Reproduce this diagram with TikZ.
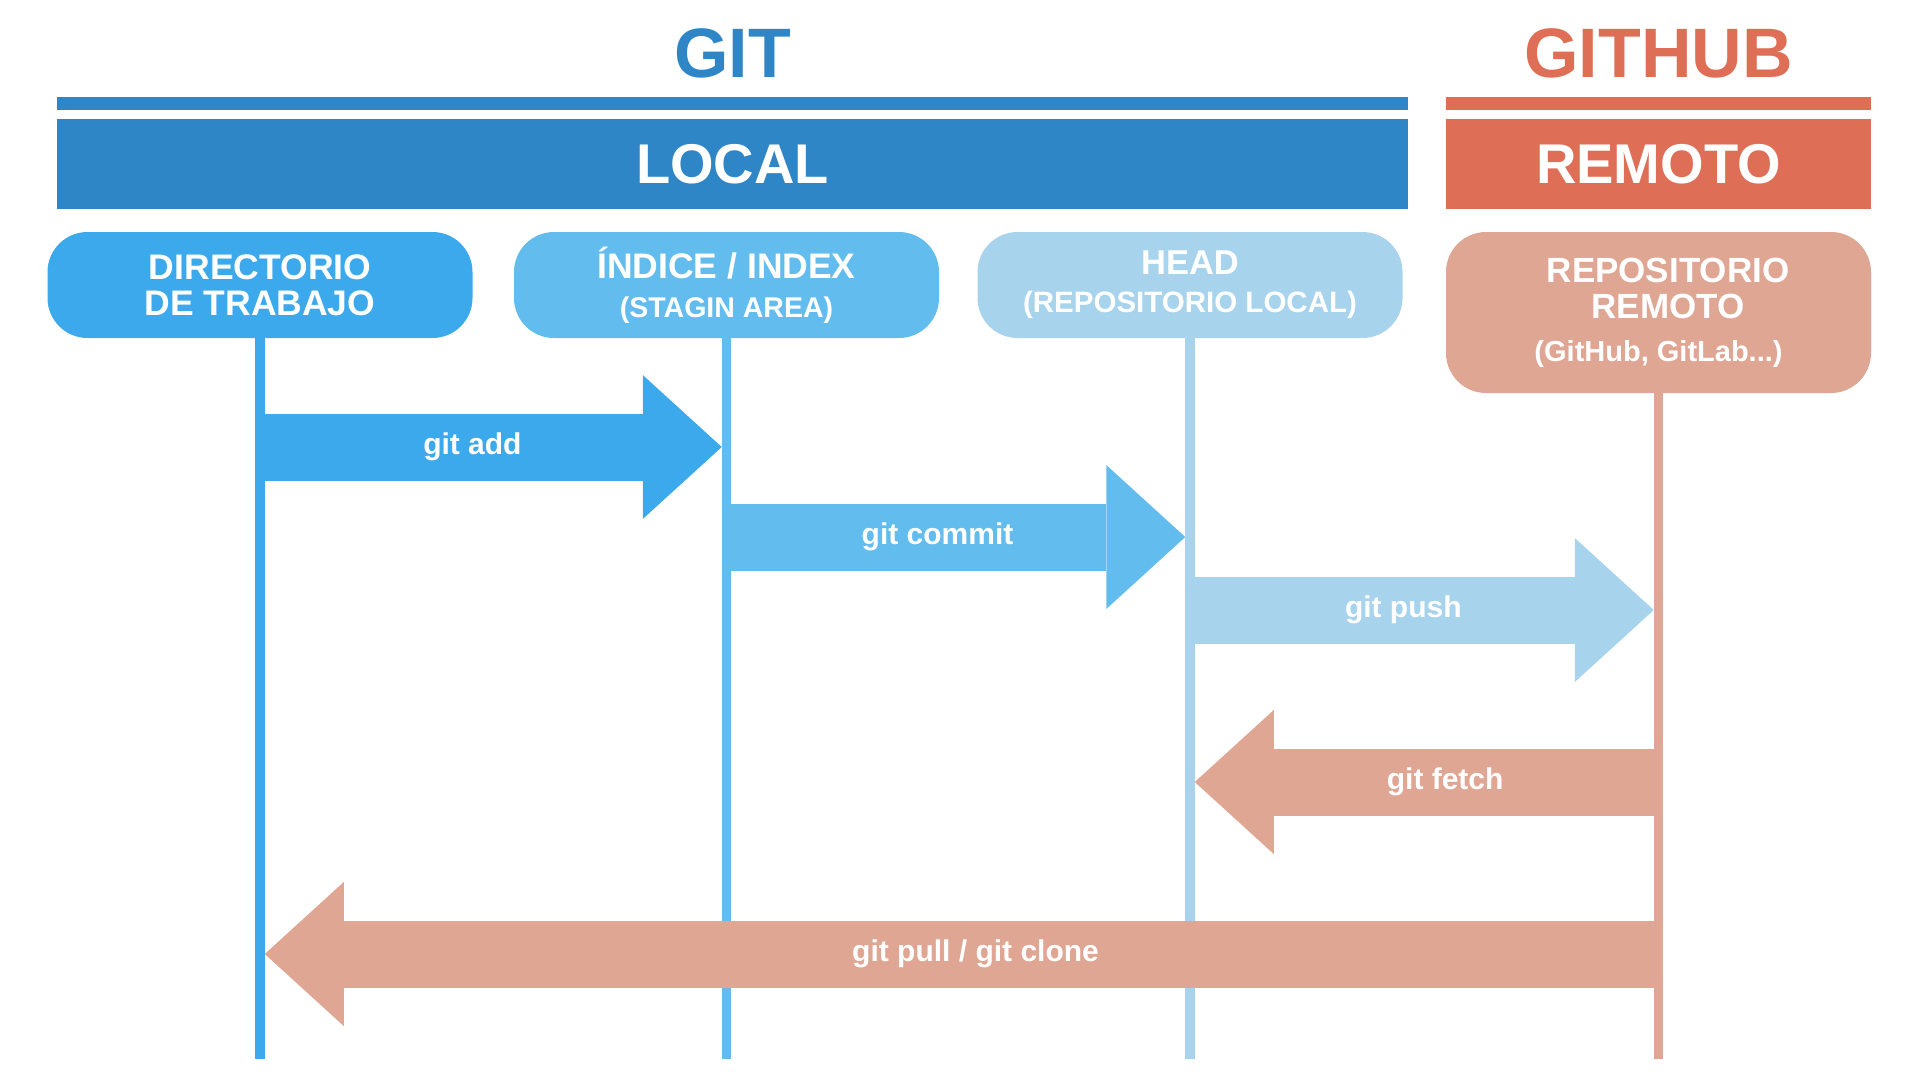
\documentclass[tikz,border=0pt]{standalone}
\usepackage{fontspec}
\setmainfont{Liberation Sans}
\usetikzlibrary{arrows.meta,calc}

\definecolor{azul}{HTML}{2E86C6}
\definecolor{naranja}{HTML}{DE6E55}
\definecolor{trabajo}{HTML}{3DA9ED}
\definecolor{indice}{HTML}{62BDEE}
\definecolor{cabeza}{HTML}{A7D4EC}
\definecolor{remoto}{HTML}{DFA693}

\tikzset{
  pastilla/.style={rounded corners=40pt, minimum width=425pt, minimum height=106pt,
    inner sep=0pt, align=center, text=white, font=\bfseries\fontsize{35.5}{36}\selectfont},
  barra/.style={minimum height=90pt, inner sep=0pt, text=white,
    font=\bfseries\fontsize{56}{56}\selectfont},
  titulo/.style={anchor=base, font=\bfseries\fontsize{70}{70}\selectfont},
  linea/.style={draw=#1, line width=9.5pt},
  flecha/.style={draw=#1, line width=67pt,
    -{Triangle[length=79pt 0 0, width=144pt 0 0, line width=0pt]}},
}

\begin{document}
\begin{tikzpicture}[x=1pt,y=-1pt]
  \useasboundingbox (0,0) rectangle (1920,1080);

  % cabecera
  \node[barra, fill=azul, minimum width=1351pt] (local) at (732.5,164) {LOCAL};
  \node[barra, fill=naranja, minimum width=425pt] (remote) at (1658.5,164) {REMOTO};
  \fill[azul] ([yshift=9pt]local.north west) rectangle ([yshift=22pt]local.north east);
  \fill[naranja] ([yshift=9pt]remote.north west) rectangle ([yshift=22pt]remote.north east);
  \node[titulo, text=azul] (git) at (732.5,77) {GIT};
  \node[titulo, text=naranja] (github) at (1658.5,77) {GITHUB};

  % pastillas
  \begin{scope}[every node/.style={pastilla}]
    \node[fill=trabajo] (dir) at (260,285) {DIRECTORIO\\DE TRABAJO};
    \node[fill=indice, font=\bfseries\fontsize{35.5}{39}\selectfont] (idx) at (726.5,285)
      {ÍNDICE / INDEX\\{\fontsize{28.5}{39}\selectfont(STAGIN AREA)}};
    \node[fill=cabeza, font=\bfseries\fontsize{34.5}{38}\selectfont] (head) at (1190,285)
      {HEAD\\{\fontsize{29.5}{38}\selectfont(REPOSITORIO LOCAL)}};
    \node[fill=remoto, minimum height=161pt, font=\bfseries\fontsize{35}{36}\selectfont] (rem) at (1658.5,312.5)
      {\hspace*{19pt}REPOSITORIO\\\hspace*{19pt}REMOTO\\[7pt]{\fontsize{29}{36}\selectfont(GitHub, GitLab...)}};
  \end{scope}

  % lineas
  \coordinate (fin) at (0,1059);
  \draw[linea=trabajo] (dir.south) -- (dir.south |- fin);
  \draw[linea=indice] (idx.south) -- (idx.south |- fin);
  \draw[linea=cabeza] (head.south) -- (head.south |- fin);
  \draw[linea=remoto] (rem.south) -- (rem.south |- fin);

  % flechas
  \coordinate (a1) at (dir.south |- 0,447);
  \coordinate (a2) at ($(idx.south |- 0,447)+(-4.75,0)$);
  \coordinate (c1) at (idx.south |- 0,537);
  \coordinate (c2) at ($(head.south |- 0,537)+(-4.75,0)$);
  \coordinate (p1) at (head.south |- 0,610);
  \coordinate (p2) at ($(rem.south |- 0,610)+(-4.75,0)$);
  \coordinate (f1) at (rem.south |- 0,782);
  \coordinate (f2) at ($(head.south |- 0,782)+(4.75,0)$);
  \coordinate (g1) at (rem.south |- 0,954);
  \coordinate (g2) at ($(dir.south |- 0,954)+(4.75,0)$);

  \begin{scope}[every node/.style={text=white, font=\bfseries\fontsize{30}{30}\selectfont, pos=.46}]
    \path (a1) edge[flecha=trabajo] node {git add} (a2);
    \path (c1) edge[flecha=indice] node {git commit} (c2);
    \path (p1) edge[flecha=cabeza] node {git push} (p2);
    \path (f1) edge[flecha=remoto] node {git fetch} (f2);
    \path (g1) edge[flecha=remoto] node[pos=.49] {git pull / git clone} (g2);
  \end{scope}

\end{tikzpicture}
\end{document}
